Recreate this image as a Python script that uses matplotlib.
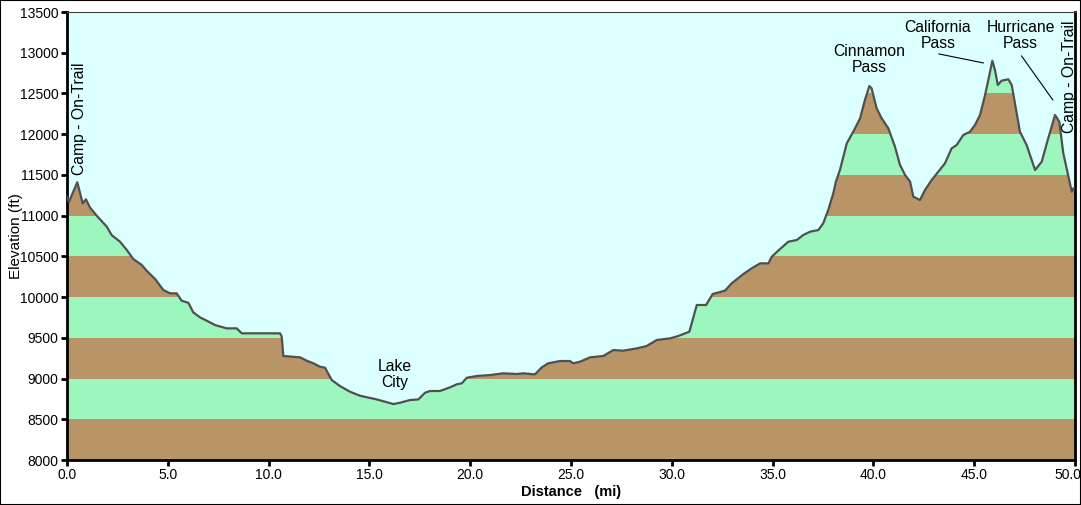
import matplotlib.pyplot as plt
import matplotlib.transforms as mtransforms
from matplotlib.patches import Rectangle
import numpy as np

plt.rcParams['font.family'] = ['Liberation Sans', 'DejaVu Sans']

# perfil: distancia (mi) e elevacao (ft)
dist = [0.00, 0.10, 0.51, 0.78, 0.94, 1.14, 1.47, 1.97, 2.22, 2.63, 2.96, 3.29,
        3.71, 3.95, 4.37, 4.78, 5.11, 5.44, 5.69, 6.02, 6.26, 6.60, 6.93, 7.34,
        7.92, 8.42, 8.67, 10.57, 10.65, 10.73, 11.56, 11.89, 12.22, 12.55, 12.80,
        13.13, 13.54, 14.04, 14.53, 15.36, 16.19, 16.52, 17.01, 17.43, 17.76,
        18.01, 18.50, 19.00, 19.33, 19.58, 19.83, 20.32, 20.98, 21.64, 22.31,
        22.63, 23.21, 23.55, 23.87, 24.45, 24.95, 25.11, 25.45, 25.94, 26.60,
        27.10, 27.59, 28.26, 28.75, 29.25, 29.91, 30.32, 30.87, 31.24, 31.70,
        32.03, 32.64, 32.97, 33.55, 33.96, 34.38, 34.79, 34.96, 35.28, 35.78,
        36.20, 36.52, 36.86, 37.27, 37.51, 37.76, 38.01, 38.14, 38.34, 38.68,
        39.09, 39.34, 39.58, 39.80, 39.91, 40.16, 40.41, 40.74, 41.07, 41.32,
        41.57, 41.82, 41.98, 42.31, 42.56, 42.89, 43.22, 43.55, 43.88, 44.13,
        44.46, 44.79, 45.04, 45.29, 45.54, 45.70, 45.90, 46.03, 46.17, 46.36,
        46.69, 46.86, 47.02, 47.27, 47.60, 48.02, 48.35, 48.60, 49.01, 49.22,
        49.42, 49.84, 49.92, 50.00]
elev = [11230, 11170, 11410, 11150, 11200, 11100, 11000, 10865, 10760, 10680,
        10580, 10467, 10394, 10324, 10222, 10087, 10046, 10046, 9955, 9930,
        9813, 9751, 9710, 9657, 9616, 9616, 9555, 9555, 9514, 9277, 9260, 9219,
        9187, 9145, 9133, 8982, 8908, 8838, 8789, 8744, 8687, 8703, 8736, 8744,
        8826, 8847, 8847, 8892, 8929, 8941, 9010, 9031, 9043, 9064, 9056, 9064,
        9051, 9137, 9187, 9215, 9215, 9187, 9207, 9260, 9277, 9350, 9342, 9370,
        9399, 9473, 9493, 9522, 9575, 9903, 9903, 10038, 10079, 10169, 10283,
        10353, 10414, 10414, 10496, 10570, 10680, 10701, 10762, 10803, 10823,
        10905, 11069, 11274, 11417, 11560, 11887, 12072, 12195, 12420, 12591,
        12563, 12317, 12195, 12072, 11846, 11622, 11499, 11417, 11233, 11192,
        11315, 11437, 11540, 11642, 11826, 11867, 11990, 12030, 12113, 12236,
        12481, 12665, 12902, 12788, 12604, 12657, 12674, 12604, 12379, 12030,
        11867, 11560, 11663, 11887, 12236, 12154, 11765, 11294, 11335, 11335]

bandas = list(range(8000, 13500, 500))
xticks = [0, 5, 10, 15, 20, 25, 30, 35, 40, 45, 50]
yticks = list(range(8000, 13501, 500))

cor_fundo = '#dcffff'
cor_castanho = '#b89467'
cor_verde = '#9df6be'

fig = plt.figure(figsize=(10.81, 5.05), dpi=100)
ax = fig.add_axes([67/1081, 1 - 460/505, (1075-67)/1081, (460-12)/505])
ax.set_facecolor(cor_fundo)

poly = ax.fill_between(dist, 8000, elev, facecolor='none', edgecolor='none')
path = poly.get_paths()[0]
for i, b in enumerate(bandas):
    cor = cor_castanho if i % 2 == 0 else cor_verde
    faixa = ax.axhspan(b, b + 500, color=cor, lw=0, zorder=1)
    faixa.set_clip_path(path, ax.transData)

ax.plot(dist, elev, color='#505050', lw=1.6, zorder=3)

ax.set_xlim(0, 50)
ax.set_ylim(8000, 13500)
ax.set_xticks(xticks)
ax.set_xticklabels(['%.1f' % t for t in xticks])
ax.set_yticks(yticks)
ax.tick_params(direction='out', length=4, width=2, labelsize=10, pad=2)
for s in ['left', 'bottom', 'right']:
    ax.spines[s].set_linewidth(2)
ax.spines['top'].set_linewidth(0.8)
ax.spines['top'].set_color('#404040')

# o ultimo rotulo fica encostado a borda
ultimo = ax.get_xticklabels()[-1]
ultimo.set_transform(ultimo.get_transform() +
                     mtransforms.ScaledTranslation(-7/100, 0, fig.dpi_scale_trans))

ax.set_xlabel('Distance   (mi)', fontsize=10.5, fontweight='bold', labelpad=2)
ax.set_ylabel('Elevation (ft)', fontsize=11)
ax.yaxis.set_label_coords(-0.044, 0.5)

# etiquetas dos pontos
fs = 11.3
ax.text(0.6, 11500, 'Camp - On-Trail', rotation=90, ha='center', va='bottom', fontsize=fs)
ax.text(49.75, 12020, 'Camp - On-Trail', rotation=90, ha='center', va='bottom', fontsize=fs)
ax.text(16.25, 8860, 'Lake\nCity', ha='center', va='bottom', fontsize=fs, linespacing=1.1)
ax.text(39.8, 12730, 'Cinnamon\nPass', ha='center', va='bottom', fontsize=fs, linespacing=1.1)
ax.text(43.2, 13020, 'California\nPass', ha='center', va='bottom', fontsize=fs, linespacing=1.1)
ax.text(47.3, 13020, 'Hurricane\nPass', ha='center', va='bottom', fontsize=fs, linespacing=1.1)
ax.plot([43.25, 45.45], [12985, 12875], color='black', lw=0.8, zorder=4)
ax.plot([47.35, 48.9], [12960, 12420], color='black', lw=0.8, zorder=4)

fig.patches.append(Rectangle((0, 0), 1, 1, transform=fig.transFigure, fill=False,
                             edgecolor='black', lw=1.5))

fig.savefig('out.png', dpi=100)
